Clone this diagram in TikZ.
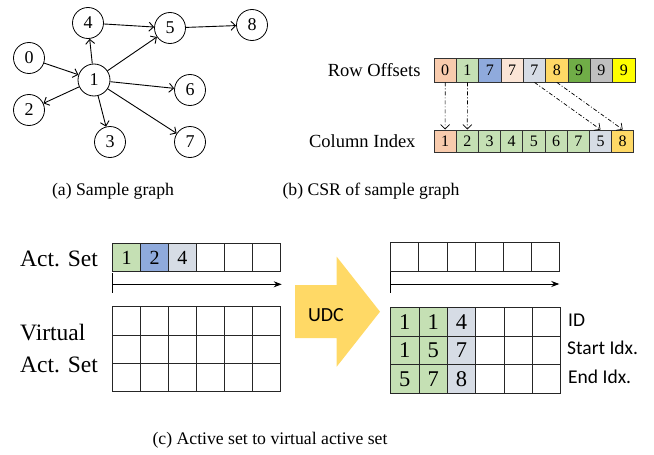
\documentclass[tikz,border=0pt]{standalone}
\usepackage{fontspec}
\setmainfont{Liberation Serif}
\newfontfamily\labfont{Carlito}
\usetikzlibrary{arrows.meta}
\definecolor{cSalmon}{HTML}{F8CBAD}
\definecolor{cGreen}{HTML}{C5E0B4}
\definecolor{cBlue}{HTML}{8FAADC}
\definecolor{cPeach}{HTML}{FBE5D6}
\definecolor{cSlate}{HTML}{D6DCE5}
\definecolor{cGold}{HTML}{FFD966}
\definecolor{cDkGreen}{HTML}{70AD47}
\definecolor{cGray}{HTML}{BFBFBF}
\definecolor{cYellow}{HTML}{FFFF00}
\definecolor{cUdc}{HTML}{FFD966}
\newcommand{\fsz}[1]{\fontsize{#1}{#1}\selectfont}
\tikzset{
  vertex/.style={circle,draw,line width=0.8pt,minimum size=31pt,inner sep=0pt,font=\fsz{18}},
  edge/.style={line width=0.9pt,-{Straight Barb[length=4.5pt,width=9pt]}},
  csrcell/.style={draw=black!80,line width=0.8pt,inner sep=0pt,minimum width=22.3pt,font=\fsz{16}},
  setcell/.style={draw=black!85,line width=0.8pt,inner sep=0pt,font=\fsz{20}},
  bigcell/.style={setcell,font=\fsz{22.5}},
  ptr/.style={line width=0.7pt,dash pattern=on 4pt off 2pt on 1pt off 2pt,-{Straight Barb[length=4.5pt,width=9pt]}},
  scan/.style={line width=0.9pt,-{Stealth[length=8pt,width=6pt]}},
  caption/.style={font=\fsz{17.7}},
  rowlab/.style={font=\fsz{18.5}},
  setlab/.style={font=\fsz{23.5},anchor=west,inner sep=0pt},
  fieldlab/.style={font=\labfont\fsz{19.5},anchor=west,inner sep=0pt}
}
\begin{document}
\begin{tikzpicture}[x=1pt,y=-1pt]
\useasboundingbox (0,0) rectangle (654,455);

% ---- (a) sample graph
\node[vertex] (n0) at (29,58) {0};
\node[vertex,minimum size=32pt] (n1) at (94,80) {1};
\node[vertex] (n2) at (29,110) {2};
\node[vertex] (n3) at (110,142) {3};
\node[vertex] (n4) at (88,23) {4};
\node[vertex] (n5) at (170,28) {5};
\node[vertex] (n6) at (190,90) {6};
\node[vertex] (n7) at (190,142) {7};
\node[vertex] (n8) at (252,25) {8};
\foreach \a/\b in {n0/n1,n1/n4,n1/n5,n4/n5,n5/n8,n1/n2,n1/n3,n1/n6,n1/n7}
  \draw[edge] (\a) -- (\b);
\node[caption] (capa) at (113,191) {(a) Sample graph};

% ---- (b) CSR arrays
\node[rowlab,anchor=east] (rolab) at (424,70) {Row Offsets};
\foreach \v/\c [count=\i] in {0/cSalmon,1/cGreen,7/cBlue,7/cPeach,7/cSlate,8/cGold,9/cDkGreen,9/cGray,9/cYellow}
  \node[csrcell,fill=\c,minimum height=24pt] (ro\i) at ({434+22.33*(\i-0.5)},70) {\v};
\node[rowlab,anchor=east] (cilab) at (419,141) {Column Index};
\foreach \v/\c [count=\i] in {1/cSalmon,2/cGreen,3/cGreen,4/cGreen,5/cGreen,6/cGreen,7/cGreen,5/cSlate,8/cGold}
  \node[csrcell,fill=\c,minimum height=22.7pt] (ci\i) at ({434+22.2*(\i-0.5)},141.3) {\v};
\draw[ptr] (ro1.south) -- (ci1.north);
\draw[ptr] (ro2.south) -- (ci2.north);
\draw[ptr] (ro5.south) -- (ci8.north);
\draw[ptr] (ro6.south) -- (ci9.north);
\node[caption] (capb) at (371,191) {(b) CSR of sample graph};

% ---- (c) active set
\node[setlab] (aslab) at (20,259) {Act. Set};
\foreach \v/\c [count=\i] in {1/cGreen,2/cBlue,4/cSlate,{}/white,{}/white,{}/white}
  \node[setcell,fill=\c,minimum width=27.9pt,minimum height=28.4pt] (as\i) at ({112.7+27.9*(\i-0.5)},257.5) {\v};
\coordinate (lt0) at (112.7,273);
\coordinate (lt1) at (112.7,293);
\coordinate (la0) at (112.7,284.3);
\coordinate (la1) at (281.7,284.3);
\draw[line width=0.9pt] (lt0) -- (lt1);
\draw[scan] (la0) -- (la1);

\node[setlab] (vlab1) at (20,333) {Virtual};
\node[setlab] (vlab2) at (20,365) {Act. Set};
\foreach \r in {1,2,3}
  \foreach \i in {1,...,6}
    \node[setcell,minimum width=27.9pt,minimum height=28.33pt] (vl\r\i) at ({112.7+27.9*(\i-0.5)},{306.7+28.33*(\r-0.5)}) {};

% UDC block arrow
\fill[cUdc] (295,285) -- (336.7,285) -- (336.7,256.7) -- (380,311.7) -- (336.7,366.7) -- (336.7,338) -- (295,338) -- cycle;
\node[font=\labfont\fsz{20}] (udc) at (326,315) {UDC};

% right side: empty active set and filled virtual active set
\foreach \i in {1,...,6}
  \node[setcell,minimum width=28.1pt,minimum height=29pt] (rs\i) at ({390.7+28.1*(\i-0.5)},257.2) {};
\coordinate (rt0) at (390.7,271.7);
\coordinate (rt1) at (390.7,293.3);
\coordinate (ra0) at (390.7,284);
\coordinate (ra1) at (559.3,284);
\draw[line width=0.9pt] (rt0) -- (rt1);
\draw[scan] (ra0) -- (ra1);

\foreach \r/\va/\vb/\vc in {1/1/1/4,2/1/5/7,3/5/7/8}{
  \foreach \v/\c [count=\i] in {\va/cGreen,\vb/cGreen,\vc/cSlate,{}/white,{}/white,{}/white}
    \node[bigcell,fill=\c,minimum width=28.33pt,minimum height=28.67pt] (vr\r\i) at ({390.7+28.33*(\i-0.5)},{307.3+28.67*(\r-0.5)}) {\v};
}
\node[fieldlab] (idlab) at (568,320) {ID};
\node[fieldlab] (stlab) at (567,348) {Start Idx.};
\node[fieldlab] (enlab) at (568,377) {End Idx.};

\node[caption] (capc) at (270,440) {(c) Active set to virtual active set};
\end{tikzpicture}
\end{document}
